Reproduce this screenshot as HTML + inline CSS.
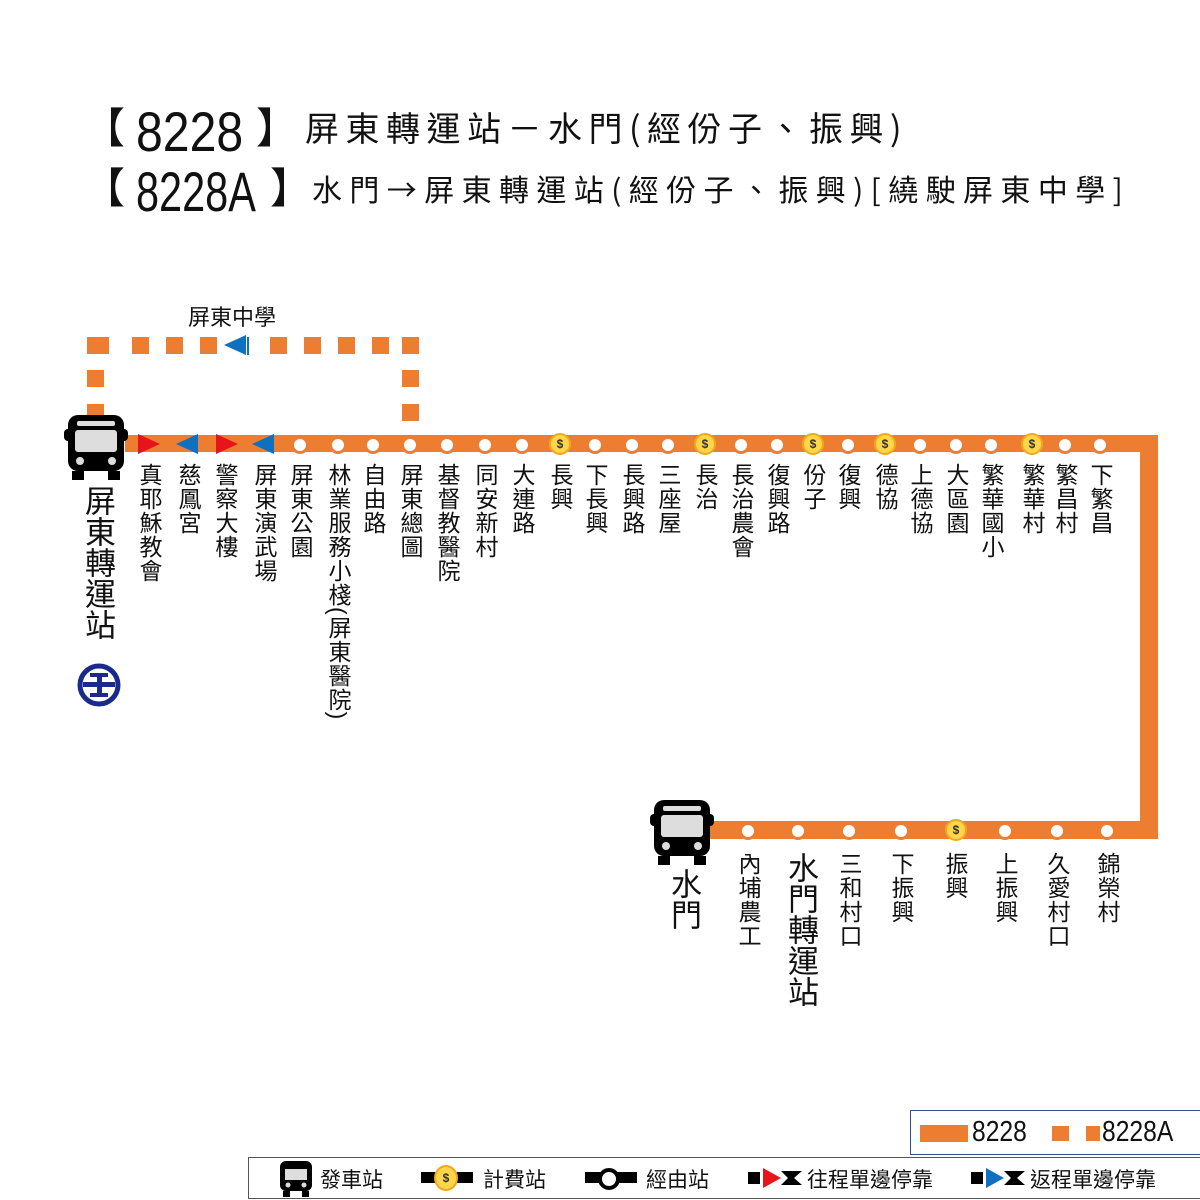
<!DOCTYPE html>
<html><head><meta charset="utf-8"><style>
body{margin:0;width:1200px;height:1200px;background:#fff;position:relative;overflow:hidden;font-family:"Liberation Sans","Noto Sans CJK TC",sans-serif;color:#111}
.a{position:absolute}
.v{position:absolute;writing-mode:vertical-rl;text-orientation:upright;font-size:23px;line-height:24px;width:24px;top:463px;letter-spacing:1px}
.b{position:absolute;writing-mode:vertical-rl;text-orientation:upright;font-size:31px;line-height:32px;width:32px}
.st{position:absolute;width:12px;height:12px;border-radius:50%;background:#fff;border:3px solid #ED7D31}
.c{position:absolute;width:18px;height:18px;border-radius:50%;background:#FFD54A;border:2px solid #F2A81D;font-size:12px;font-weight:bold;text-align:center;line-height:18px;color:#333}
.sq{position:absolute;width:17px;height:17px;background:#ED7D31}
.t{position:absolute;white-space:nowrap;font-family:"Noto Sans CJK TC",sans-serif;line-height:1}
.n{position:absolute;white-space:nowrap;font-family:"Liberation Sans",sans-serif;transform-origin:left;line-height:1}
</style></head><body>
<div class="t" style="left:83px;top:105px;font-size:42px">【</div>
<div class="n" style="left:136px;top:104px;font-size:56px;transform:scaleX(0.86)">8228</div>
<div class="t" style="left:256px;top:105px;font-size:42px">】</div>
<div class="t" style="left:305px;top:110px;font-size:34px;letter-spacing:6.5px">屏東轉運站－水門(經份子、振興)</div>
<div class="t" style="left:83px;top:165px;font-size:42px">【</div>
<div class="n" style="left:136px;top:164px;font-size:56px;transform:scaleX(0.74)">8228A</div>
<div class="t" style="left:270px;top:165px;font-size:42px">】</div>
<div class="t" style="left:312px;top:173px;font-size:30px;letter-spacing:7.4px">水門→屏東轉運站(經份子、振興)[繞駛屏東中學]</div>

<div class="a" style="left:188px;top:300px;font-size:22px">屏東中學</div>
<div class="sq" style="left:87px;top:337px;width:22px"></div>
<div class="sq" style="left:132px;top:337px"></div><div class="sq" style="left:166px;top:337px"></div><div class="sq" style="left:200px;top:337px"></div>
<div class="sq" style="left:270px;top:337px"></div><div class="sq" style="left:304px;top:337px"></div><div class="sq" style="left:338px;top:337px"></div><div class="sq" style="left:372px;top:337px"></div><div class="sq" style="left:402px;top:337px"></div>
<div class="sq" style="left:87px;top:370px"></div><div class="sq" style="left:87px;top:404px"></div>
<div class="sq" style="left:402px;top:370px"></div><div class="sq" style="left:402px;top:404px"></div>
<svg class="a" style="left:222px;top:334px" width="30" height="24"><polygon points="2,11 24,1 24,21" fill="#1070C0"/><rect x="25" y="3" width="2" height="18" fill="#1070C0"/></svg>

<div class="a" style="left:125px;top:435px;width:1033px;height:17px;background:#ED7D31"></div>
<div class="a" style="left:1140px;top:435px;width:18px;height:404px;background:#ED7D31"></div>
<div class="a" style="left:705px;top:821px;width:453px;height:18px;background:#ED7D31"></div>
<svg class="a" style="left:130px;top:432px" width="150" height="24">
<rect x="0" y="0" width="150" height="24" fill="#fff"/>
<rect x="0" y="3" width="150" height="17" fill="#ED7D31"/>
<polygon points="8,2 30,12 8,22" fill="#E8141C"/>
<polygon points="68,2 46,12 68,22" fill="#1070C0"/>
<polygon points="86,2 108,12 86,22" fill="#E8141C"/>
<polygon points="144,2 122,12 144,22" fill="#1070C0"/>
</svg>
<svg class="a" style="left:64px;top:413px" width="64" height="70"><rect x="4" y="2" width="56" height="56" rx="10" fill="#000"/><rect x="0" y="16" width="64" height="12" rx="4" fill="#000"/><rect x="13" y="8" width="38" height="5" rx="2" fill="#ddd"/><rect x="11" y="17" width="42" height="22" rx="3" fill="#ddd"/><circle cx="16" cy="48" r="4" fill="#ddd"/><circle cx="48" cy="48" r="4" fill="#ddd"/><rect x="8" y="58" width="12" height="9" fill="#000"/><rect x="44" y="58" width="12" height="9" fill="#000"/></svg>
<svg class="a" style="left:650px;top:798px" width="64" height="70"><rect x="4" y="2" width="56" height="56" rx="10" fill="#000"/><rect x="0" y="16" width="64" height="12" rx="4" fill="#000"/><rect x="13" y="8" width="38" height="5" rx="2" fill="#ddd"/><rect x="11" y="17" width="42" height="22" rx="3" fill="#ddd"/><circle cx="16" cy="48" r="4" fill="#ddd"/><circle cx="48" cy="48" r="4" fill="#ddd"/><rect x="8" y="58" width="12" height="9" fill="#000"/><rect x="44" y="58" width="12" height="9" fill="#000"/></svg>
<div class="b" style="left:81px;top:485px">屏東轉運站</div>
<svg class="a" style="left:77px;top:663px" width="44" height="44"><circle cx="22" cy="22" r="19" fill="none" stroke="#1A2A8C" stroke-width="5"/><rect x="6" y="19" width="32" height="5" fill="#1A2A8C"/><rect x="13" y="10" width="18" height="4" fill="#1A2A8C"/><rect x="13" y="30" width="18" height="4" fill="#1A2A8C"/><rect x="20" y="10" width="5" height="24" fill="#1A2A8C"/></svg>

<div class="st" style="left:291px;top:436px"></div><div class="st" style="left:329px;top:436px"></div><div class="st" style="left:364px;top:436px"></div><div class="st" style="left:401px;top:436px"></div><div class="st" style="left:438px;top:436px"></div><div class="st" style="left:476px;top:436px"></div><div class="st" style="left:513px;top:436px"></div>
<div class="c" style="left:549px;top:433px">$</div>
<div class="st" style="left:586px;top:436px"></div><div class="st" style="left:623px;top:436px"></div><div class="st" style="left:659px;top:436px"></div>
<div class="c" style="left:694px;top:433px">$</div>
<div class="st" style="left:732px;top:436px"></div><div class="st" style="left:768px;top:436px"></div>
<div class="c" style="left:802px;top:433px">$</div>
<div class="st" style="left:839px;top:436px"></div>
<div class="c" style="left:874px;top:433px">$</div>
<div class="st" style="left:911px;top:436px"></div><div class="st" style="left:947px;top:436px"></div><div class="st" style="left:982px;top:436px"></div>
<div class="c" style="left:1021px;top:433px">$</div>
<div class="st" style="left:1056px;top:436px"></div><div class="st" style="left:1091px;top:436px"></div>

<div class="v" style="left:137px">真耶穌教會</div>
<div class="v" style="left:176px">慈鳳宮</div>
<div class="v" style="left:213px">警察大樓</div>
<div class="v" style="left:252px">屏東演武場</div>
<div class="v" style="left:288px">屏東公園</div>
<div class="v" style="left:326px;text-orientation:mixed">林業服務小棧(屏東醫院)</div>
<div class="v" style="left:361px">自由路</div>
<div class="v" style="left:398px">屏東總圖</div>
<div class="v" style="left:435px">基督教醫院</div>
<div class="v" style="left:473px">同安新村</div>
<div class="v" style="left:510px">大連路</div>
<div class="v" style="left:548px">長興</div>
<div class="v" style="left:583px">下長興</div>
<div class="v" style="left:620px">長興路</div>
<div class="v" style="left:656px">三座屋</div>
<div class="v" style="left:693px">長治</div>
<div class="v" style="left:729px">長治農會</div>
<div class="v" style="left:765px">復興路</div>
<div class="v" style="left:801px">份子</div>
<div class="v" style="left:836px">復興</div>
<div class="v" style="left:873px">德協</div>
<div class="v" style="left:908px">上德協</div>
<div class="v" style="left:944px">大區園</div>
<div class="v" style="left:979px">繁華國小</div>
<div class="v" style="left:1020px">繁華村</div>
<div class="v" style="left:1053px">繁昌村</div>
<div class="v" style="left:1088px">下繁昌</div>

<div class="st" style="left:739px;top:822px"></div><div class="st" style="left:789px;top:822px"></div><div class="st" style="left:840px;top:822px"></div><div class="st" style="left:892px;top:822px"></div>
<div class="c" style="left:945px;top:819px">$</div>
<div class="st" style="left:996px;top:822px"></div><div class="st" style="left:1048px;top:822px"></div><div class="st" style="left:1098px;top:822px"></div>
<div class="b" style="left:667px;top:868px">水門</div>
<div class="v" style="left:736px;top:852px">內埔農工</div>
<div class="b" style="left:784px;top:852px">水門轉運站</div>
<div class="v" style="left:837px;top:852px">三和村口</div>
<div class="v" style="left:889px;top:852px">下振興</div>
<div class="v" style="left:943px;top:852px">振興</div>
<div class="v" style="left:993px;top:852px">上振興</div>
<div class="v" style="left:1045px;top:852px">久愛村口</div>
<div class="v" style="left:1095px;top:852px">錦榮村</div>

<div class="a" style="left:910px;top:1110px;width:290px;height:45px;border:1px solid #3A4A8C;border-right:none;box-sizing:border-box"></div>
<div class="a" style="left:920px;top:1125px;width:48px;height:17px;background:#ED7D31"></div>
<div class="a" style="left:972px;top:1116px;font-size:29px;transform:scaleX(0.85);transform-origin:left">8228</div>
<div class="a" style="left:1052px;top:1126px;width:17px;height:15px;background:#ED7D31"></div>
<div class="a" style="left:1086px;top:1126px;width:14px;height:15px;background:#ED7D31"></div>
<div class="a" style="left:1102px;top:1116px;font-size:29px;transform:scaleX(0.85);transform-origin:left">8228A</div>

<div class="a" style="left:248px;top:1157px;width:952px;height:42px;border:1px solid #555;border-right:none;box-sizing:border-box"></div>
<svg class="a" style="left:278px;top:1160px" width="36" height="38"><rect x="2" y="1" width="32" height="30" rx="6" fill="#000"/><rect x="7" y="9" width="22" height="11" fill="#ddd"/><circle cx="10" cy="25" r="2.5" fill="#ddd"/><circle cx="26" cy="25" r="2.5" fill="#ddd"/><rect x="5" y="31" width="7" height="6" fill="#000"/><rect x="24" y="31" width="7" height="6" fill="#000"/></svg>
<div class="a" style="left:320px;top:1164px;font-size:21px">發車站</div>
<div class="a" style="left:421px;top:1172px;width:52px;height:11px;background:#000"></div>
<div class="c" style="left:434px;top:1165px;width:20px;height:22px;line-height:22px">$</div>
<div class="a" style="left:483px;top:1164px;font-size:21px">計費站</div>
<div class="a" style="left:585px;top:1172px;width:52px;height:11px;background:#000"></div>
<div class="a" style="left:598px;top:1168px;width:14px;height:14px;border-radius:50%;background:#fff;border:4px solid #000"></div>
<div class="a" style="left:646px;top:1164px;font-size:21px">經由站</div>
<svg class="a" style="left:748px;top:1167px" width="55" height="22"><rect x="0" y="5" width="12" height="12" fill="#000"/><polygon points="15,1 33,11 15,21" fill="#E8141C"/><polygon points="33,4 54,4 46,11 54,18 33,18 40,11" fill="#000"/></svg>
<div class="a" style="left:807px;top:1164px;font-size:21px">往程單邊停靠</div>
<svg class="a" style="left:971px;top:1167px" width="55" height="22"><rect x="0" y="5" width="12" height="12" fill="#000"/><polygon points="15,1 33,11 15,21" fill="#1070C0"/><polygon points="33,4 54,4 46,11 54,18 33,18 40,11" fill="#000"/></svg>
<div class="a" style="left:1030px;top:1164px;font-size:21px">返程單邊停靠</div>
</body></html>
